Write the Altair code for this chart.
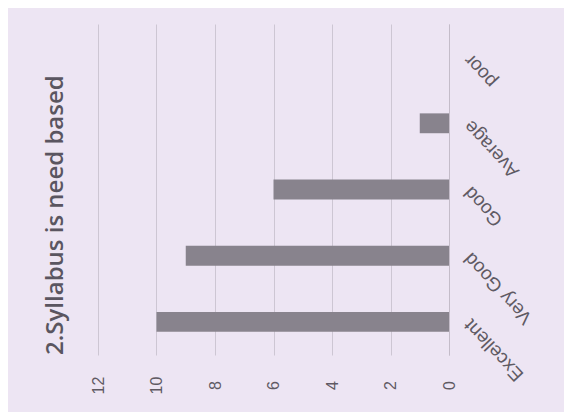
import altair as alt
import pandas as pd

categories = ["Excellent", "Very Good", "Good", "Average", "poor"]
values = [10, 9, 6, 1, 0]
value_ticks = [0, 2, 4, 6, 8, 10, 12]
title_text = "2.Syllabus is need based"

df = pd.DataFrame({"rating": categories, "count": values})

bars = alt.Chart(df).mark_bar(color="#88838d").encode(
    x=alt.X(
        "count:Q",
        scale=alt.Scale(domain=[0, 12], reverse=True, nice=False),
        axis=alt.Axis(
            values=value_ticks,
            orient="bottom",
            title=None,
            grid=True,
            gridColor="#cdc6d3",
            gridWidth=1,
            domain=False,
            ticks=False,
            tickSize=0,
            labelAngle=270,
            labelAlign="center",
            labelBaseline="middle",
            labelPadding=30,
            labelFont="Liberation Sans",
            labelFontSize=16,
            labelColor="#5f5a63",
        ),
    ),
    y=alt.Y(
        "rating:N",
        sort=list(reversed(categories)),
        scale=alt.Scale(paddingInner=0.7, paddingOuter=0.35),
        axis=alt.Axis(
            orient="right",
            title=None,
            grid=False,
            domain=True,
            domainColor="#c4bcc9",
            ticks=False,
            tickSize=0,
            labelAngle=227,
            labelAlign="right",
            labelBaseline="middle",
            labelPadding=18,
            labelFont="Liberation Sans",
            labelFontSize=19,
            labelColor="#5f5a63",
        ),
    ),
)

chart = bars.properties(
    width=351,
    height=331,
    title=alt.TitleParams(
        text=title_text,
        orient="left",
        anchor="start",
        frame="group",
        offset=22,
        font="Open Sans",
        fontSize=24,
        fontWeight=600,
        color="#5a5560",
    ),
    autosize=alt.AutoSizeParams(type="none"),
    padding={"left": 90, "top": 16, "right": 115, "bottom": 57},
).configure(
    background="#ede5f3",
).configure_view(
    stroke=None,
)

chart.save("out.html", embed_options={"renderer": "svg", "actions": False})
